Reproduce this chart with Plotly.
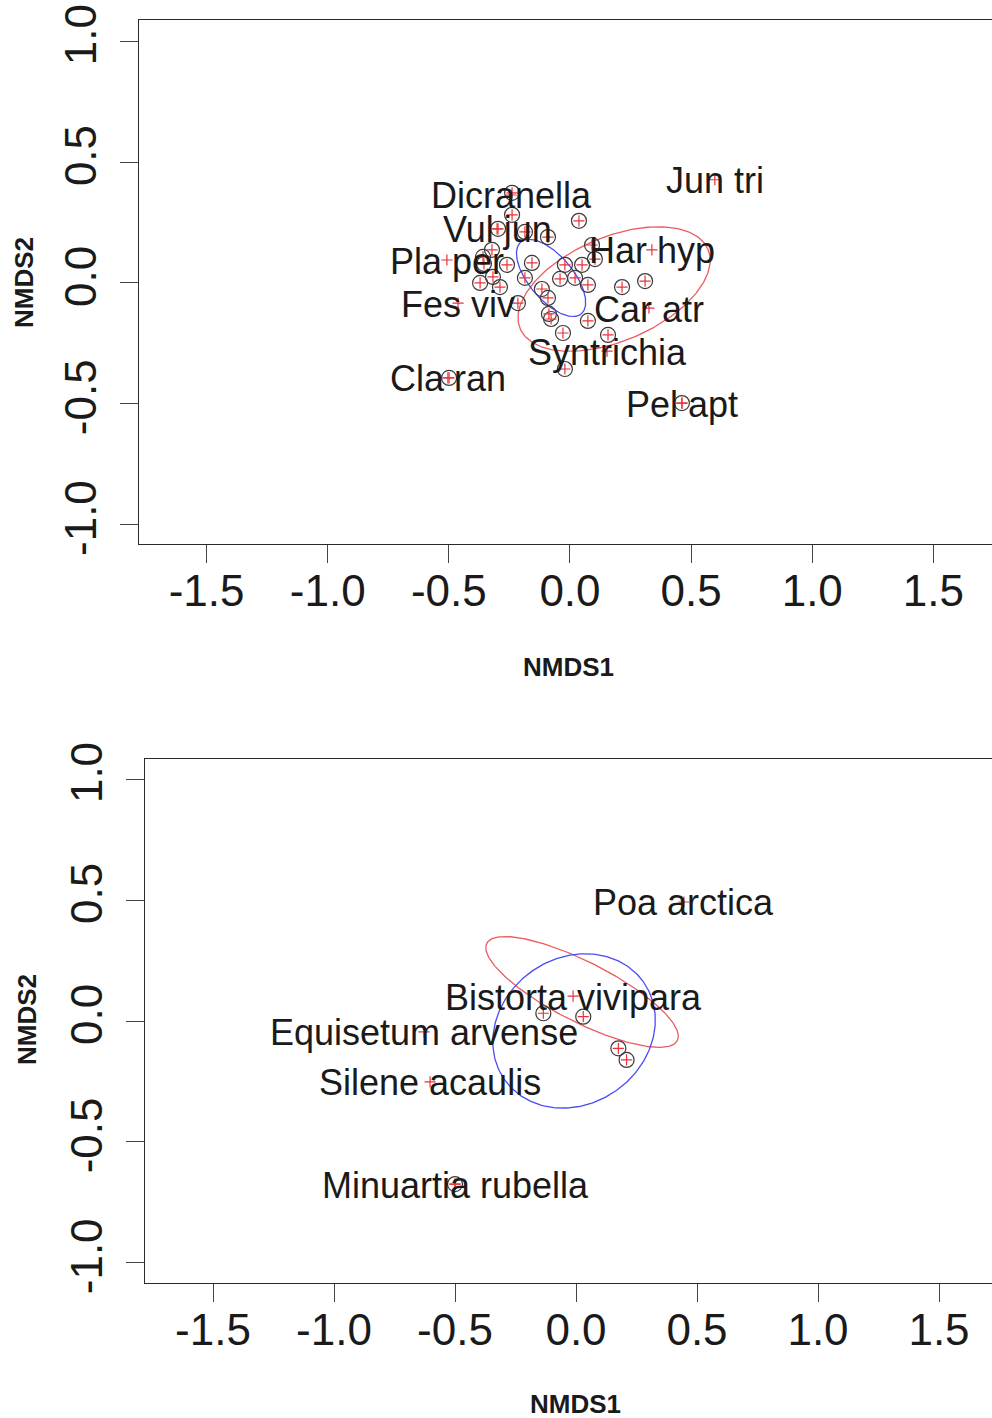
import numpy as np
import plotly.graph_objects as go

# ---- Upper panel: NMDS site scores ----
top_site_x = [-0.239, -0.239, 0.037, -0.186, -0.091, 0.091, 0.103, -0.322, -0.359, -0.355,
              -0.260, -0.157, -0.021, 0.050, -0.371, -0.318, -0.289, -0.186, -0.041, 0.021,
              0.074, 0.215, 0.310, -0.116, -0.091, -0.215, -0.087, -0.078, 0.074, -0.029,
              0.157, -0.021, -0.499, 0.462, -0.297]
top_site_y = [0.373, 0.282, 0.257, 0.211, 0.190, 0.157, 0.099, 0.137, 0.108, 0.079,
              0.075, 0.083, 0.075, 0.075, 0.000, 0.025, -0.017, 0.021, 0.017, 0.021,
              -0.008, -0.017, 0.008, -0.025, -0.062, -0.083, -0.128, -0.149, -0.157, -0.207,
              -0.215, -0.356, -0.393, -0.497, 0.224]

# Upper panel: species scores
top_species = ["Dicranella", "Vul jun", "Pla per", "Fes viv", "Cla ran",
               "Jun tri", "Har hyp", "Car atr", "Syntrichia", "Pel apt"]
top_spec_x = [-0.243, -0.301, -0.508, -0.462, -0.504, 0.598, 0.338, 0.326, 0.153, 0.462]
top_spec_y = [0.364, 0.224, 0.095, -0.083, -0.393, 0.427, 0.137, -0.104, -0.282, -0.497]

# Upper panel ellipses: centre x, centre y, semi-major, semi-minor, rotation (deg)
top_ellipse_red = [0.182, -0.025, 0.421, 0.215, 23]
top_ellipse_blue = [-0.078, 0.021, 0.194, 0.091, -50]

# ---- Lower panel ----
bot_site_x = [-0.135, 0.030, 0.175, 0.209, -0.500]
bot_site_y = [0.032, 0.018, -0.113, -0.161, -0.674]

bot_species = ["Poa arctica", "Bistorta vivipara", "Equisetum arvense",
               "Silene acaulis", "Minuartia rubella"]
bot_spec_x = [0.446, -0.012, -0.628, -0.603, -0.500]
bot_spec_y = [0.492, 0.103, -0.045, -0.252, -0.674]

bot_ellipse_red = [0.025, 0.120, 0.442, 0.124, -27]
bot_ellipse_blue = [-0.008, -0.041, 0.351, 0.302, 35]

x_ticks = [-1.5, -1.0, -0.5, 0.0, 0.5, 1.0, 1.5]
x_ticktext = ["-1.5", "-1.0", "-0.5", "0.0", "0.5", "1.0", "1.5"]
y_ticks = [-1.0, -0.5, 0.0, 0.5, 1.0]
y_ticktext = ["-1.0", "-0.5", "0.0", "0.5", "1.0"]

FONT = "Liberation Sans, Arial, sans-serif"
RED = "#e8333a"
RED_LINE = "#ee5a60"
BLUE_LINE = "#4b4bf5"
INK = "#1a1a1a"
CIRCLE = "#3a3a3a"


def ellipse_path(params, n=240):
    cx, cy, a, b, ang = params
    t = np.linspace(0, 2 * np.pi, n)
    th = np.deg2rad(ang)
    ex = cx + a * np.cos(t) * np.cos(th) - b * np.sin(t) * np.sin(th)
    ey = cy + a * np.cos(t) * np.sin(th) + b * np.sin(t) * np.cos(th)
    return ex, ey


fig = go.Figure()


def add_panel(xa, ya, sx, sy, names, px, py, ell_red, ell_blue):
    for params, col in ((ell_red, RED_LINE), (ell_blue, BLUE_LINE)):
        ex, ey = ellipse_path(params)
        fig.add_trace(go.Scatter(x=ex, y=ey, mode="lines", xaxis=xa, yaxis=ya,
                                 line=dict(color=col, width=1.3), hoverinfo="skip"))
    # site symbols
    fig.add_trace(go.Scatter(x=sx, y=sy, mode="markers", xaxis=xa, yaxis=ya,
                             marker=dict(symbol="circle-open", size=15, color=CIRCLE,
                                         line=dict(color=CIRCLE, width=1.2))))
    fig.add_trace(go.Scatter(x=sx, y=sy, mode="markers", xaxis=xa, yaxis=ya,
                             marker=dict(symbol="cross-thin-open", size=8, color=RED,
                                         line=dict(color=RED, width=1.2))))
    # species crosses and names
    fig.add_trace(go.Scatter(x=px, y=py, mode="markers", xaxis=xa, yaxis=ya,
                             marker=dict(symbol="cross-thin-open", size=8, color=RED,
                                         line=dict(color=RED, width=1.2))))
    for name, x, y in zip(names, px, py):
        fig.add_annotation(x=x, y=y, xref=xa, yref=ya, text=name, showarrow=False,
                           xanchor="center", yanchor="middle", yshift=-1,
                           font=dict(family=FONT, size=36, color=INK))


add_panel("x", "y", top_site_x, top_site_y, top_species, top_spec_x, top_spec_y,
          top_ellipse_red, top_ellipse_blue)
add_panel("x2", "y2", bot_site_x, bot_site_y, bot_species, bot_spec_x, bot_spec_y,
          bot_ellipse_red, bot_ellipse_blue)

W, H = 992, 1418


def px_x(p):
    return p / W


def px_y(p):
    return 1 - p / H


xcommon = dict(tickvals=x_ticks, ticktext=x_ticktext, ticks="outside", ticklen=18,
               tickwidth=1.2, tickcolor="#444", showline=True, linecolor="#2a2a2a",
               linewidth=1.4, mirror=True, showgrid=False, zeroline=False,
               automargin=False,
               tickfont=dict(family=FONT, size=44, color=INK), ticklabelstandoff=-10)
ycommon = dict(tickvals=y_ticks, ticktext=y_ticktext, ticks="outside", ticklen=18,
               tickwidth=1.2, tickcolor="#444", showline=True, linecolor="#2a2a2a",
               linewidth=1.4, mirror=False, showgrid=False, zeroline=False,
               automargin=False,
               tickangle=-90, tickfont=dict(family=FONT, size=44, color=INK),
               ticklabelstandoff=6)

fig.update_layout(
    width=W, height=H, margin=dict(l=0, r=0, t=0, b=0, autoexpand=False),
    paper_bgcolor="white", plot_bgcolor="white", showlegend=False,
    xaxis=dict(domain=[px_x(139), 1.0], range=[-1.779, 1.742], anchor="y", **xcommon),
    yaxis=dict(domain=[px_y(544), px_y(20)], range=[-1.080, 1.088], anchor="x", **ycommon),
    xaxis2=dict(domain=[px_x(145), 1.0], range=[-1.781, 1.719], anchor="y2", **xcommon),
    yaxis2=dict(domain=[px_y(1283), px_y(759)], range=[-1.083, 1.083], anchor="x2", **ycommon),
)

title_font = dict(family=FONT, size=26, color=INK, weight="bold")
for (tx, ty, txt, ang) in ((568, 667, "NMDS1", 0), (575, 1404, "NMDS1", 0),
                           (24, 283, "NMDS2", -90), (27, 1020, "NMDS2", -90)):
    fig.add_annotation(x=px_x(tx), y=px_y(ty), xref="paper", yref="paper", text=txt,
                       showarrow=False, textangle=ang, font=title_font,
                       xanchor="center", yanchor="middle")

fig.write_html("out.html")
